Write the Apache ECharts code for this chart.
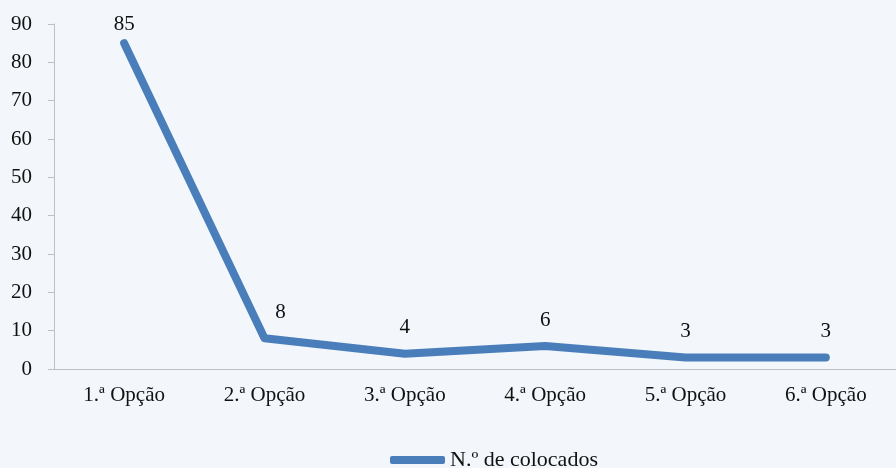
<!DOCTYPE html>
<html>
<head>
<meta charset="utf-8">
<script src="https://cdn.jsdelivr.net/npm/echarts@6/dist/echarts.min.js"></script>
<style>
  html, body { margin: 0; padding: 0; background: #f3f7fb; }
</style>
</head>
<body>
<div id="main" style="width: 896px; height: 468px"></div>
<script>
const categories = ['1.ª Opção', '2.ª Opção', '3.ª Opção', '4.ª Opção', '5.ª Opção', '6.ª Opção'];
const colocados = [85, 8, 4, 6, 3, 3];
// label nudges, like the original (first label closer, second one to the right)
const labelOffsets = [[0, 7], [16, 0], [0, 0], [0, 0], [0, 0], [0, 0]];

const font = '"Liberation Serif", "Times New Roman", serif';
const myChart = echarts.init(document.getElementById('main'));
myChart.setOption({
  backgroundColor: '#f3f7fb',
  textStyle: { fontFamily: font },
  grid: { left: 54, top: 24, width: 852, height: 345 },
  legend: {
    top: 444,
    left: 385,
    itemWidth: 55,
    itemHeight: 8,
    itemGap: 10,
    icon: 'roundRect',
    textStyle: { fontFamily: font, fontSize: 22, color: '#111' },
    data: ['N.º de colocados']
  },
  xAxis: {
    type: 'category',
    data: categories,
    boundaryGap: true,
    axisLine: { lineStyle: { color: '#bfbfbf' } },
    axisTick: { lineStyle: { color: '#bfbfbf' }, length: 6 },
    axisLabel: { fontFamily: font, fontSize: 21, color: '#111', margin: 16 }
  },
  yAxis: {
    type: 'value',
    min: 0,
    max: 90,
    interval: 10,
    axisLine: { show: true, lineStyle: { color: '#bfbfbf' } },
    axisTick: { show: true, lineStyle: { color: '#bfbfbf' }, length: 6 },
    splitLine: { show: false },
    axisLabel: { fontFamily: font, fontSize: 21, color: '#111', margin: 22 }
  },
  series: [{
    name: 'N.º de colocados',
    type: 'line',
    data: colocados.map((v, i) => ({ value: v, label: { offset: labelOffsets[i] } })),
    symbol: 'circle',
    symbolSize: 1,
    showSymbol: true,
    itemStyle: { color: '#4a7ebb' },
    lineStyle: { width: 8, color: '#4a7ebb', cap: 'round', join: 'round' },
    label: {
      show: true,
      position: 'top',
      distance: 15,
      fontFamily: font,
      fontSize: 21,
      color: '#111'
    }
  }]
});
</script>
</body>
</html>
